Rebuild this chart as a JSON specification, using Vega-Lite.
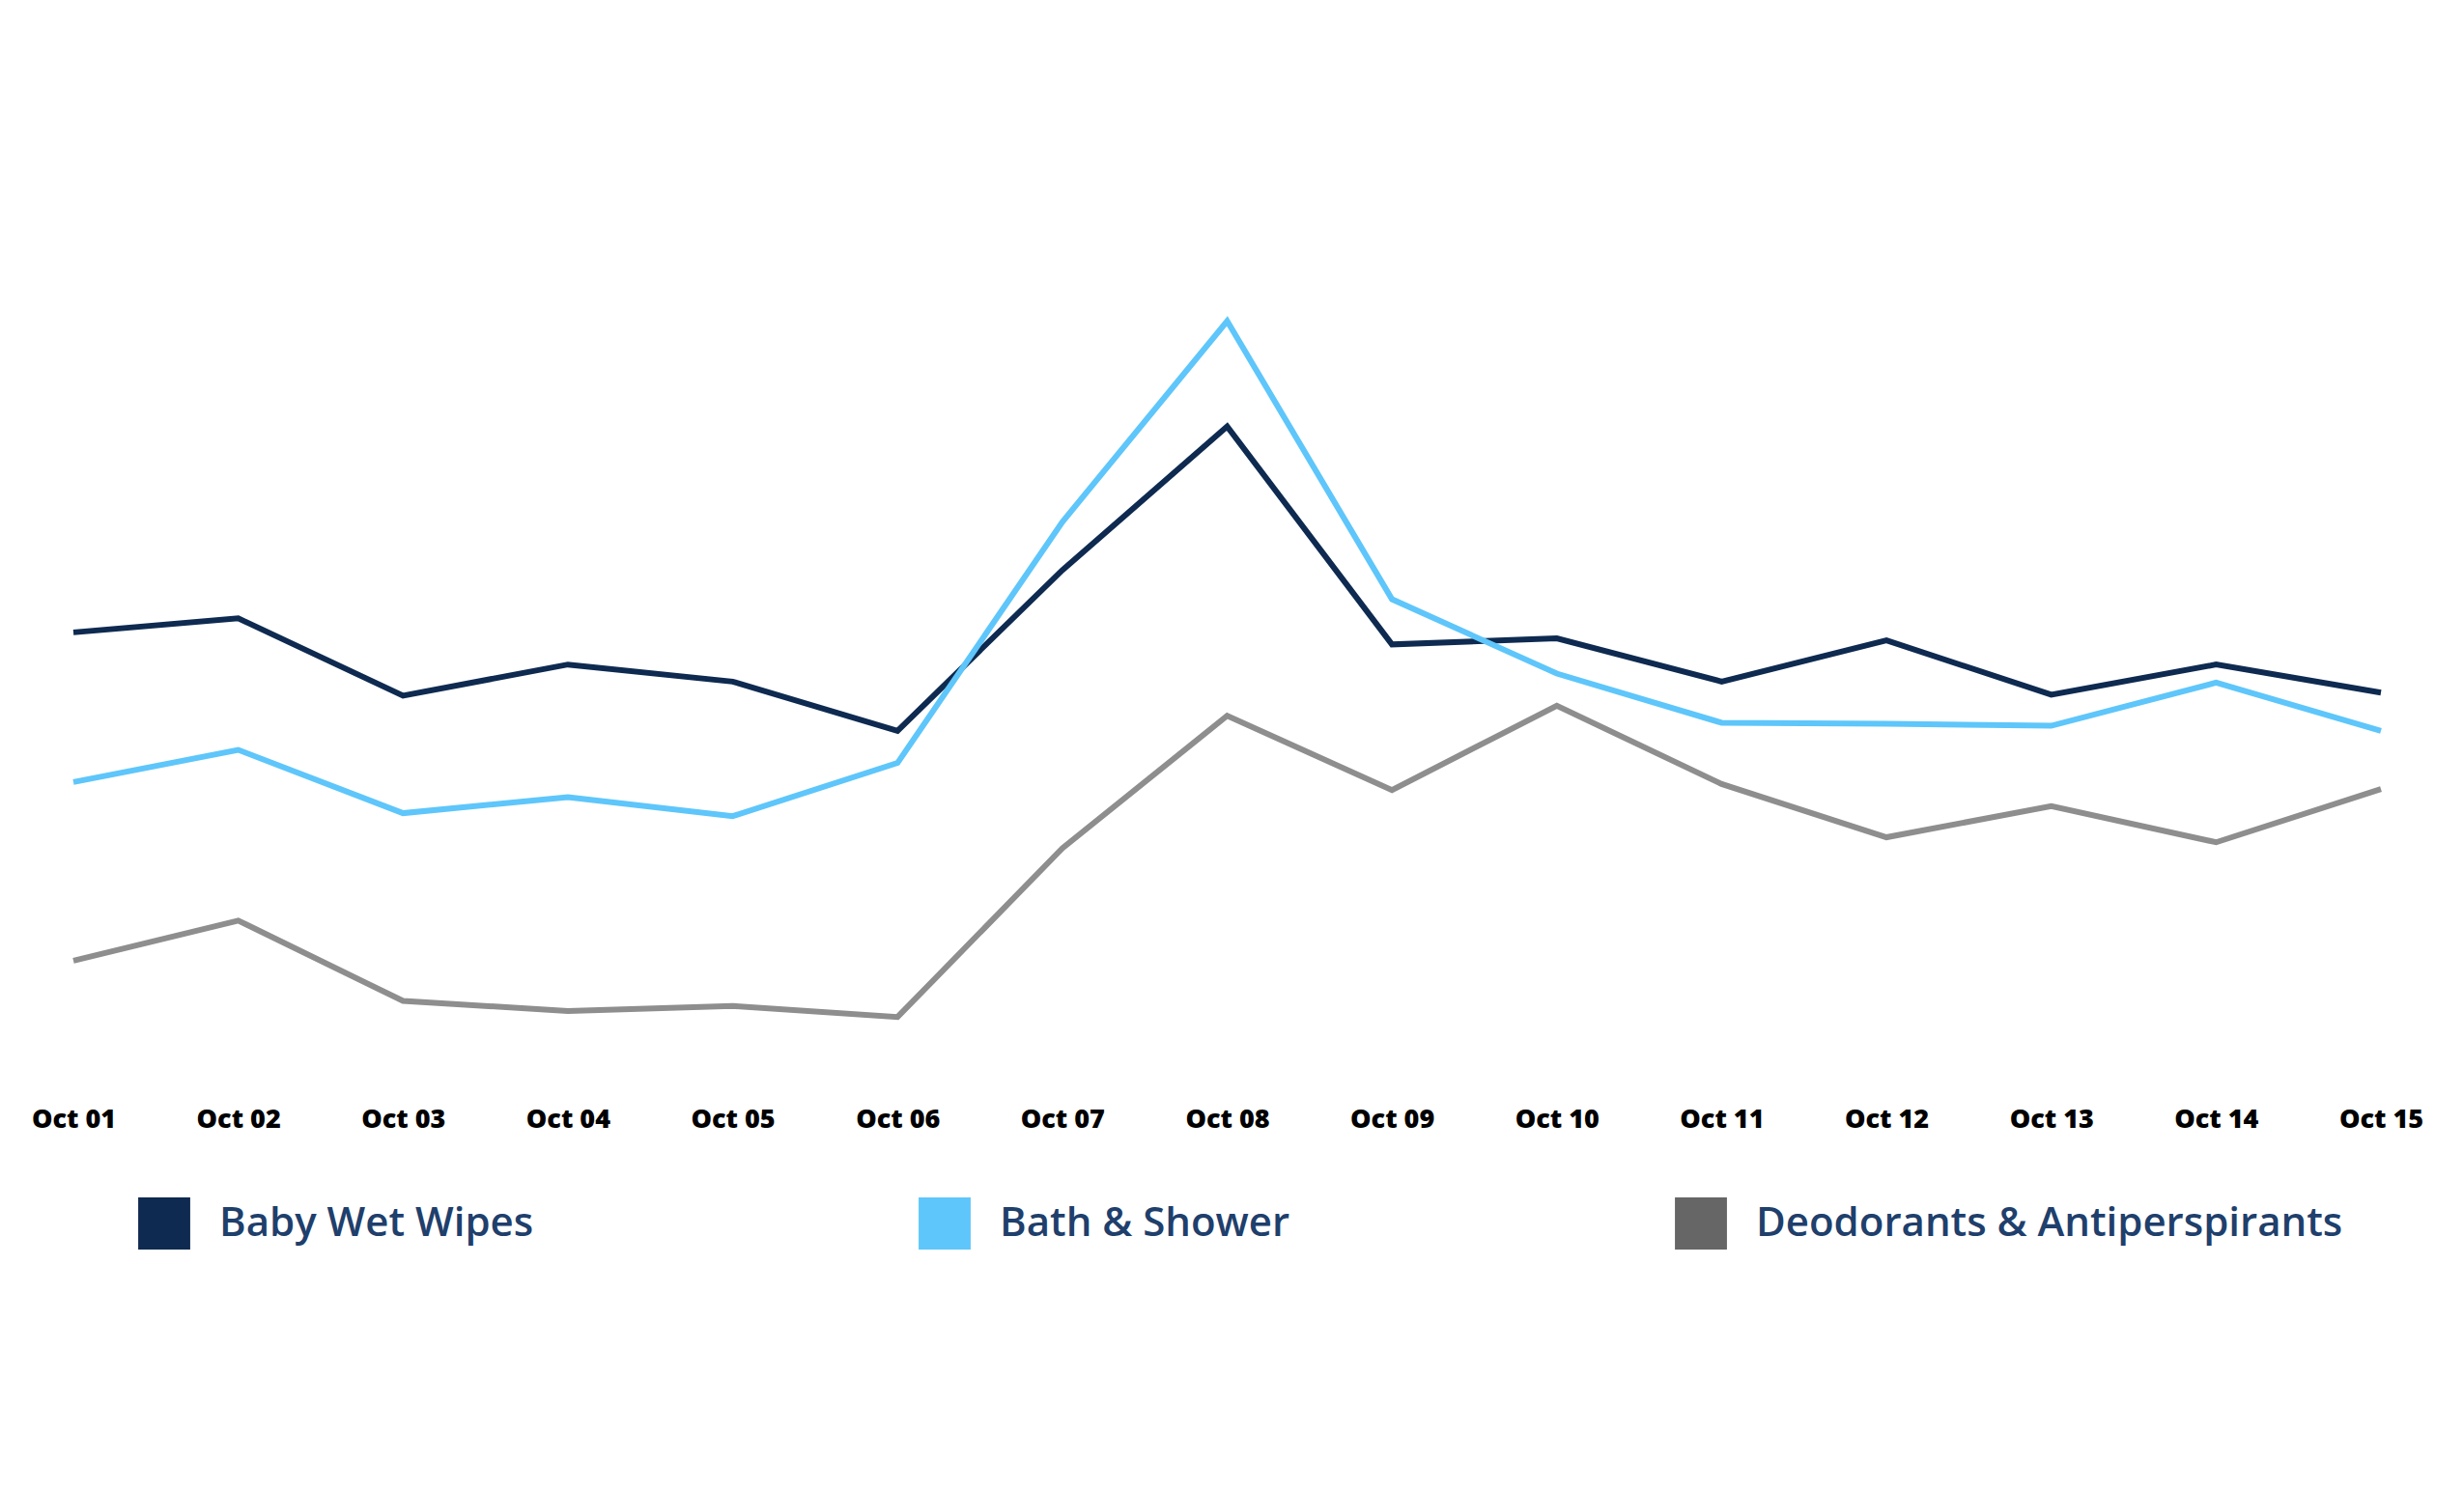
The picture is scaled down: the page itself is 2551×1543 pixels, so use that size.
{
  "$schema": "https://vega.github.io/schema/vega-lite/v6.json",
  "autosize": "none",
  "width": 2389,
  "height": 1040,
  "padding": {"left": 76, "top": 60, "right": 86, "bottom": 443},
  "background": "white",
  "config": {"view": {"stroke": null}},
  "data": {"values": [
    {"date": "Oct 01", "series": "Baby Wet Wipes", "value": 42.8},
    {"date": "Oct 02", "series": "Baby Wet Wipes", "value": 44.2},
    {"date": "Oct 03", "series": "Baby Wet Wipes", "value": 36.5},
    {"date": "Oct 04", "series": "Baby Wet Wipes", "value": 39.6},
    {"date": "Oct 05", "series": "Baby Wet Wipes", "value": 37.9},
    {"date": "Oct 06", "series": "Baby Wet Wipes", "value": 33.0},
    {"date": "Oct 07", "series": "Baby Wet Wipes", "value": 49.0},
    {"date": "Oct 08", "series": "Baby Wet Wipes", "value": 63.3},
    {"date": "Oct 09", "series": "Baby Wet Wipes", "value": 41.6},
    {"date": "Oct 10", "series": "Baby Wet Wipes", "value": 42.2},
    {"date": "Oct 11", "series": "Baby Wet Wipes", "value": 37.9},
    {"date": "Oct 12", "series": "Baby Wet Wipes", "value": 42.0},
    {"date": "Oct 13", "series": "Baby Wet Wipes", "value": 36.6},
    {"date": "Oct 14", "series": "Baby Wet Wipes", "value": 39.6},
    {"date": "Oct 15", "series": "Baby Wet Wipes", "value": 36.8},
    {"date": "Oct 01", "series": "Bath & Shower", "value": 27.9},
    {"date": "Oct 02", "series": "Bath & Shower", "value": 31.1},
    {"date": "Oct 03", "series": "Bath & Shower", "value": 24.8},
    {"date": "Oct 04", "series": "Bath & Shower", "value": 26.4},
    {"date": "Oct 05", "series": "Bath & Shower", "value": 24.5},
    {"date": "Oct 06", "series": "Bath & Shower", "value": 29.8},
    {"date": "Oct 07", "series": "Bath & Shower", "value": 53.8},
    {"date": "Oct 08", "series": "Bath & Shower", "value": 73.8},
    {"date": "Oct 09", "series": "Bath & Shower", "value": 46.1},
    {"date": "Oct 10", "series": "Bath & Shower", "value": 38.7},
    {"date": "Oct 11", "series": "Bath & Shower", "value": 33.8},
    {"date": "Oct 12", "series": "Bath & Shower", "value": 33.7},
    {"date": "Oct 13", "series": "Bath & Shower", "value": 33.5},
    {"date": "Oct 14", "series": "Bath & Shower", "value": 37.8},
    {"date": "Oct 15", "series": "Bath & Shower", "value": 33.0},
    {"date": "Oct 01", "series": "Deodorants & Antiperspirants", "value": 10.1},
    {"date": "Oct 02", "series": "Deodorants & Antiperspirants", "value": 14.1},
    {"date": "Oct 03", "series": "Deodorants & Antiperspirants", "value": 6.1},
    {"date": "Oct 04", "series": "Deodorants & Antiperspirants", "value": 5.1},
    {"date": "Oct 05", "series": "Deodorants & Antiperspirants", "value": 5.6},
    {"date": "Oct 06", "series": "Deodorants & Antiperspirants", "value": 4.5},
    {"date": "Oct 07", "series": "Deodorants & Antiperspirants", "value": 21.3},
    {"date": "Oct 08", "series": "Deodorants & Antiperspirants", "value": 34.5},
    {"date": "Oct 09", "series": "Deodorants & Antiperspirants", "value": 27.1},
    {"date": "Oct 10", "series": "Deodorants & Antiperspirants", "value": 35.5},
    {"date": "Oct 11", "series": "Deodorants & Antiperspirants", "value": 27.7},
    {"date": "Oct 12", "series": "Deodorants & Antiperspirants", "value": 22.4},
    {"date": "Oct 13", "series": "Deodorants & Antiperspirants", "value": 25.5},
    {"date": "Oct 14", "series": "Deodorants & Antiperspirants", "value": 21.9},
    {"date": "Oct 15", "series": "Deodorants & Antiperspirants", "value": 27.2}
  ]},
  "mark": {"type": "line", "strokeWidth": 6, "strokeJoin": "miter"},
  "encoding": {
    "x": {
      "field": "date", "type": "ordinal", "sort": null,
      "scale": {"type": "point", "padding": 0},
      "axis": {"title": null, "ticks": false, "domain": false, "grid": false, "labelAngle": 0,
               "labelFont": "Open Sans", "labelFontWeight": 800, "labelFontSize": 27, "labelColor": "#000000",
               "labelPadding": 46, "labelBaseline": "top"}
    },
    "y": {
      "field": "value", "type": "quantitative",
      "scale": {"domain": [0, 100], "nice": false, "zero": false},
      "axis": null
    },
    "color": {
      "field": "series", "type": "nominal",
      "scale": {"domain": ["Baby Wet Wipes", "Bath & Shower", "Deodorants & Antiperspirants"],
                "range": ["#0e2a50", "#5ec6fa", "#8e8e8e"]},
      "legend": {
        "title": null, "orient": "none", "direction": "horizontal", "columns": 3,
        "legendX": 67, "legendY": 1180,
        "columnPadding": 398,
        "symbolType": "square", "symbolSize": 2900, "symbolStrokeWidth": 0,
        "labelFont": "Open Sans", "labelFontWeight": 600, "labelFontSize": 42, "labelColor": "#1f3f6c",
        "labelOffset": 30, "labelLimit": 1000,
        "encode": {"symbols": {"update": {"fill": {"signal": "datum.value === 'Deodorants & Antiperspirants' ? '#666666' : scale('color', datum.value)"}, "strokeWidth": {"value": 0}, "opacity": {"value": 1}}}}
      }
    }
  }
}
